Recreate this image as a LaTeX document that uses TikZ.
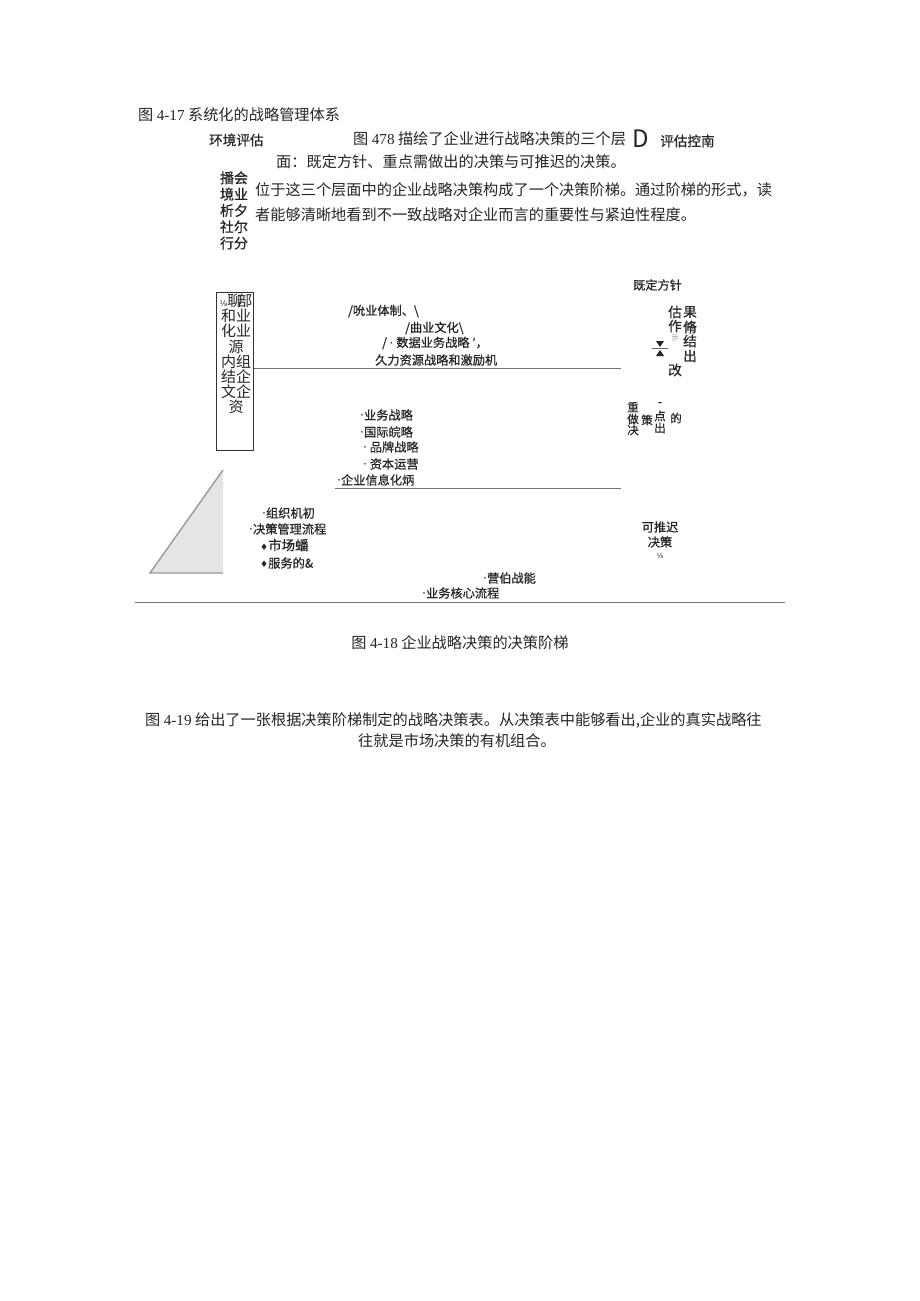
\documentclass[tikz,border=0pt]{standalone}
\usepackage{fontspec}
\setmainfont{Noto Sans CJK SC}
\newfontfamily\labelfont{Noto Sans CJK SC}[FakeBold=0.7]
\newfontfamily\symfont{DejaVu Sans}
\newfontfamily\numfont{Liberation Serif}
\newcommand\smalldot{{\symfont\char"00B7}}
\newcommand\diam{{\symfont\fontsize{9}{9}\selectfont\char"2666}}
\newcommand\num[1]{{\numfont #1}}

\begin{document}
\begin{tikzpicture}[x=1pt, y=-1pt,
    every node/.style = {inner sep=0pt, anchor=west, text=black!85},
    body/.style = {font=\fontsize{15.2}{15.2}\selectfont},
    lbl/.style = {font=\labelfont\fontsize{12.2}{12.2}\selectfont},
    tag/.style = {font=\labelfont\fontsize{13.6}{13.6}\selectfont},
    tiny/.style = {font=\labelfont\fontsize{11.5}{11.5}\selectfont, anchor=center},
    rule/.style = {draw=black!55, line width=1pt}]

  \useasboundingbox[fill=white] (0,0) rectangle (920,1301);

  % text above the figure
  \node[body] (cap17) at (138,115) {图 \num{4-17} 系统化的战略管理体系};
  \node[tag] (env) at (209,140) {环境评估};
  \node[body] (para1) at (353,139) {图 \num{478} 描绘了企业进行战略决策的三个层};
  \node[font=\fontsize{24}{24}\selectfont] (bigD) at (632,139) {D};
  \node[tag] (evalc) at (660,141) {评估控南};
  \node[body] (para2) at (276,162) {面：既定方针、重点需做出的决策与可推迟的决策。};
  \node[font=\labelfont\fontsize{14}{16.3}\selectfont, align=center, anchor=center]
    (stack) at (234,210.5) {播会\\境业\\析夕\\社尔\\行分};
  \node[body] (para3) at (255,190) {位于这三个层面中的企业战略决策构成了一个决策阶梯。通过阶梯的形式，读};
  \node[body] (para4) at (255,215) {者能够清晰地看到不一致战略对企业而言的重要性与紧迫性程度。};

  % the ladder
  \node[lbl] (fixed) at (633,285) {既定方针};
  \node[draw=black!80, line width=0.8pt, minimum width=37pt, minimum height=158pt,
    anchor=north west] (box) at (216,292) {};
  \node[font=\fontsize{15}{15.2}\selectfont, align=center, anchor=center]
    (boxtxt) at (236,354) {{\symfont\fontsize{8}{8}\selectfont ⅛}聊\kern-5pt部\\和业\\化业\\源\\内组\\结企\\文企\\资};

  \node[lbl] (u1) at (348,311) {/吮业体制、\textbackslash};
  \node[lbl] (u2) at (405,328) {/曲业文化\textbackslash};
  \node[lbl] (u3) at (382,343) {/ \smalldot\ 数据业务战略 ′，};
  \node[lbl] (u4) at (375,360) {久力资源战略和激励机};
  \draw[rule] (box.east |- 0,368) -- (621,368);

  \node[lbl] (m1) at (360,415) {\smalldot 业务战略};
  \node[lbl] (m2) at (360,432) {\smalldot 国际皖略};
  \node[lbl] (m3) at (363,447) {\smalldot\ 品牌战略};
  \node[lbl] (m4) at (363,464) {\smalldot\ 资本运营};
  \node[lbl] (m5) at (337,480) {\smalldot 企业信息化炳};
  \draw[rule] (335,488) -- (621,488);

  \node[lbl] (l1) at (262,513) {\smalldot 组织机初};
  \node[lbl] (l2) at (249,529) {\smalldot 决策管理流程};
  \node[font=\labelfont\fontsize{13.4}{13.4}\selectfont] (l3) at (260,545) {\diam 市场蟠};
  \node[lbl] (l4) at (260,563) {\diam 服务的\&};
  \node[lbl] (l5) at (483,578) {\smalldot 营伯战能};
  \node[lbl] (l6) at (422,593) {\smalldot 业务核心流程};
  \draw[rule] (135,602) -- (785,602);

  % the slope
  \fill[black!10] (150,573) -- (223,470) -- (223,573) -- cycle;
  \draw[draw=black!40, line width=1.4pt] (223,470) -- (150,573) -- (223,573);

  % right column
  \node[tag, anchor=center] (r1) at (675,312) {估};
  \node[tag, anchor=center] (r2) at (675,326) {作};
  \node[font=\fontsize{7}{7}\selectfont, anchor=center, text=black!50] (r3) at (675,338) {示};
  \node[tag, anchor=center] (r4) at (675,370) {改};
  \node[tag, anchor=center] (s1) at (690,312) {果};
  \node[tag, anchor=center] (s2) at (690,327) {脩};
  \node[tag, anchor=center] (s3) at (690,341) {结};
  \node[tag, anchor=center] (s4) at (690,356) {出};
  \fill[black!85] (656,341) -- (664,341) -- (660,347) -- cycle;
  \fill[black!85] (656,356) -- (664,356) -- (660,350) -- cycle;
  \draw[black!60, line width=0.6pt] (652,348.5) -- (668,348.5);

  \node[tiny] (k1) at (633,407) {重};
  \node[tiny] (k2) at (633,419) {做};
  \node[tiny] (k3) at (633,430) {决};
  \node[tiny] (k4) at (647,420) {策};
  \node[tiny] (k5) at (660,404) {-};
  \node[tiny] (k6) at (660,416) {点};
  \node[tiny] (k7) at (660,428) {出};
  \node[tiny] (k8) at (676,418) {的};

  \node[lbl, anchor=center] (v1) at (660,527) {可推迟};
  \node[lbl, anchor=center] (v2) at (660,542) {决策};
  \node[anchor=center] (v3) at (660,556) {\symfont\fontsize{7}{7}\selectfont ⅛};

  % text below the figure
  \node[body, anchor=center] (cap18) at (460,643) {图 \num{4-18} 企业战略决策的决策阶梯};
  \node[body] (para5) at (145,720) {图 \num{4-19} 给出了一张根据决策阶梯制定的战略决策表。从决策表中能够看出,企业的真实战略往};
  \node[body, anchor=center] (para6) at (457,741) {往就是市场决策的有机组合。};
\end{tikzpicture}
\end{document}
